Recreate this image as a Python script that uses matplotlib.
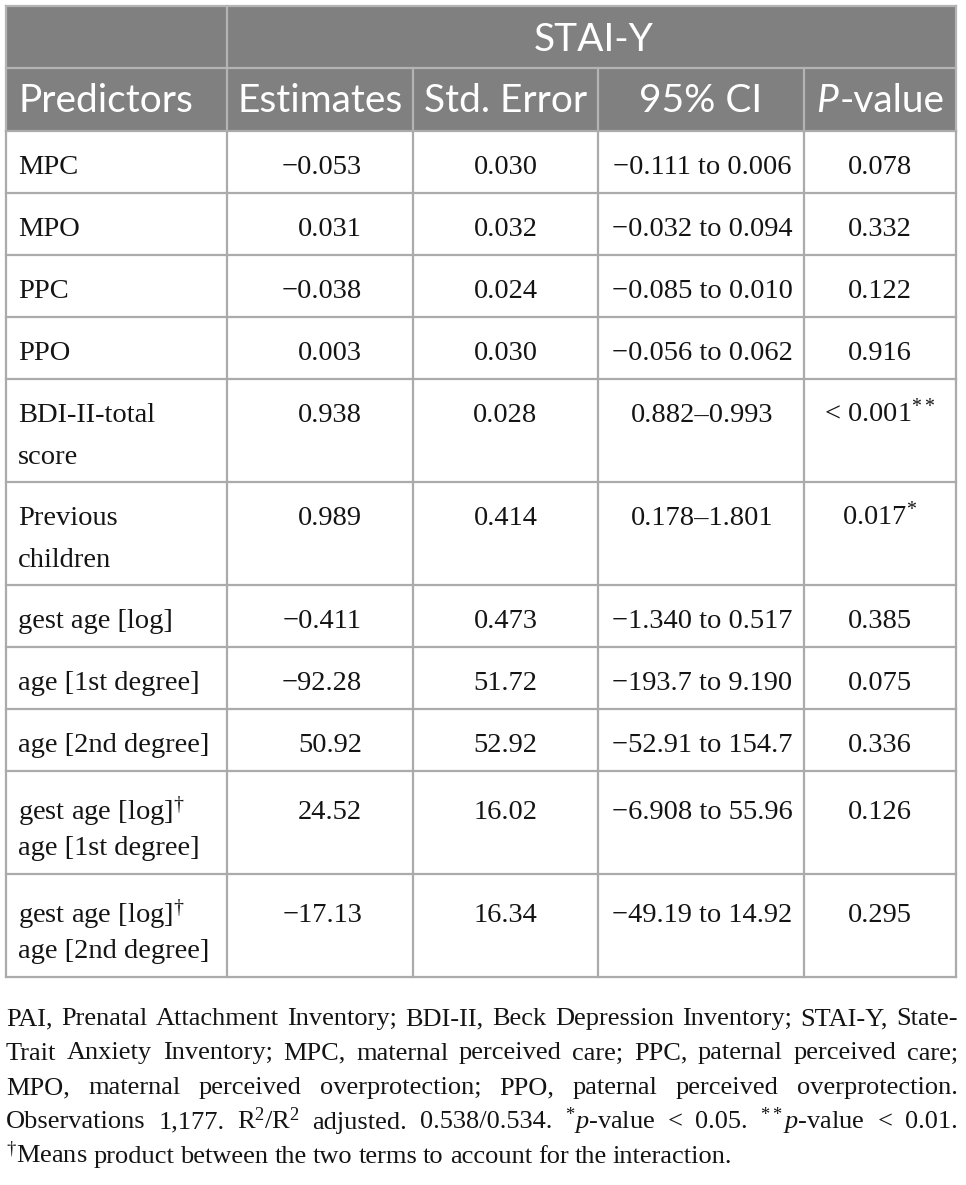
import matplotlib.pyplot as plt
from matplotlib.patches import Rectangle

plt.rcParams['mathtext.fontset'] = 'custom'
plt.rcParams['mathtext.rm'] = 'Liberation Serif'
plt.rcParams['mathtext.it'] = 'Liberation Serif:italic'

# table contents
group_title = "STAI-Y"
col_heads = ["Predictors", "Estimates", "Std. Error", "95% CI", "P-value"]
predictors = [["MPC"], ["MPO"], ["PPC"], ["PPO"],
              ["BDI-II-total", "score"], ["Previous", "children"],
              ["gest age [log]"], ["age [1st degree]"], ["age [2nd degree]"],
              [r"gest age [log]$^{\dagger}$", "age [1st degree]"],
              [r"gest age [log]$^{\dagger}$", "age [2nd degree]"]]
estimates = ["\u22120.053", "0.031", "\u22120.038", "0.003", "0.938", "0.989",
             "\u22120.411", "\u221292.28", "50.92", "24.52", "\u221217.13"]
std_err = ["0.030", "0.032", "0.024", "0.030", "0.028", "0.414", "0.473",
           "51.72", "52.92", "16.02", "16.34"]
ci95 = ["\u22120.111 to 0.006", "\u22120.032 to 0.094", "\u22120.085 to 0.010",
        "\u22120.056 to 0.062", "0.882\u20130.993", "0.178\u20131.801",
        "\u22121.340 to 0.517", "\u2212193.7 to 9.190", "\u221252.91 to 154.7",
        "\u22126.908 to 55.96", "\u221249.19 to 14.92"]
pvals = ["0.078", "0.332", "0.122", "0.916", r"< 0.001$^{**}$", r"0.017$^{*}$",
         "0.385", "0.075", "0.336", "0.126", "0.295"]

foot_lines = [
    "PAI, Prenatal Attachment Inventory; BDI-II, Beck Depression Inventory; STAI-Y, State-",
    "Trait Anxiety Inventory; MPC, maternal perceived care; PPC, paternal perceived care;",
    "MPO, maternal perceived overprotection; PPO, paternal perceived overprotection.",
    r"Observations 1,177. R$^2$/R$^2$ adjusted. 0.538/0.534. $^{*}\mathit{p}$-value < 0.05. $^{**}\mathit{p}$-value < 0.01.",
    r"$^{\dagger}$Means product between the two terms to account for the interaction.",
]

W, H = 966, 1185
fig = plt.figure(figsize=(W / 100, H / 100), dpi=100)
ax = fig.add_axes([0, 0, 1, 1])
ax.set_xlim(0, W)
ax.set_ylim(H, 0)
ax.axis('off')
renderer = fig.canvas.get_renderer()

# layout
cols = [6, 227, 413, 598, 804, 956]
head_y = [6, 68, 131]
row_h = [62 if len(p) == 1 else 103 for p in predictors]
rows = [head_y[-1]]
for h in row_h:
    rows.append(rows[-1] + h)

grid = '#ababab'
head_bg = '#808080'
head_line = '#b4b4b4'
lw = 1.6

hfont = dict(family='Lato', fontsize=28, color='white')
bfont = dict(family='Liberation Serif', fontsize=20.5, color='#141414')

# header block
ax.add_patch(Rectangle((cols[0], head_y[0]), cols[-1] - cols[0], head_y[2] - head_y[0],
                       facecolor=head_bg, edgecolor='none'))
ax.plot([cols[0], cols[-1]], [head_y[1]] * 2, color=head_line, lw=lw)
ax.plot([cols[0], cols[-1]], [head_y[0]] * 2, color=head_line, lw=lw)
ax.plot([cols[1]] * 2, [head_y[0], head_y[2]], color=head_line, lw=lw)
for x in cols[2:-1]:
    ax.plot([x, x], [head_y[1], head_y[2]], color=head_line, lw=lw)
ax.plot([cols[0]] * 2, [head_y[0], head_y[2]], color=head_line, lw=lw)
ax.plot([cols[-1]] * 2, [head_y[0], head_y[2]], color=head_line, lw=lw)

ax.text((cols[1] + cols[-1]) / 2 + 2, 51, group_title, ha='center', va='baseline', **hfont)
ax.text(cols[0] + 12, 112, col_heads[0], ha='left', va='baseline', **hfont)
for i in range(1, 4):
    ax.text((cols[i] + cols[i + 1]) / 2, 112, col_heads[i], ha='center', va='baseline', **hfont)

# italic P + "-value"
cx = (cols[4] + cols[5]) / 2
t1 = ax.text(0, 112, col_heads[4][0], style='italic', va='baseline', **hfont)
t2 = ax.text(0, 112, col_heads[4][1:], va='baseline', **hfont)
w1 = t1.get_window_extent(renderer).width
w2 = t2.get_window_extent(renderer).width
t1.set_x(cx - (w1 + w2) / 2)
t2.set_x(cx - (w1 + w2) / 2 + w1 + 1)

# body grid
for x in cols:
    ax.plot([x, x], [head_y[2], rows[-1]], color=grid, lw=lw)
for y in rows:
    ax.plot([cols[0], cols[-1]], [y, y], color=grid, lw=lw)

for i, pred in enumerate(predictors):
    top = rows[i]
    has_dag = '\\dagger' in pred[0]
    first = top + (48 if has_dag else 43)
    for j, line in enumerate(pred):
        ax.text(cols[0] + 12, first + j * (36 if has_dag else 42),
                line, ha='left', va='baseline', **bfont)
    ax.text(362, first, estimates[i], ha='right', va='baseline', **bfont)
    ax.text((cols[2] + cols[3]) / 2, first, std_err[i], ha='center', va='baseline', **bfont)
    ax.text((cols[3] + cols[4]) / 2 + 1, first, ci95[i], ha='center', va='baseline', **bfont)
    ax.text((cols[4] + cols[5]) / 2, first, pvals[i], ha='center', va='baseline', **bfont)

# justified footnote
ffont = dict(family='Liberation Serif', fontsize=19, color='#141414')
left, right = 6, 958
y0, dy = 1025, 34.5
for k, line in enumerate(foot_lines):
    y = y0 + k * dy
    words = line.split(' ')
    texts = [ax.text(0, y, w, ha='left', va='baseline', **ffont) for w in words]
    widths = [t.get_window_extent(renderer).width for t in texts]
    if k < len(foot_lines) - 1:
        gap = (right - left - sum(widths)) / (len(words) - 1)
    else:
        gap = 6
    x = left
    for t, w in zip(texts, widths):
        t.set_x(x)
        x += w + gap

fig.savefig('out.png', dpi=100)
